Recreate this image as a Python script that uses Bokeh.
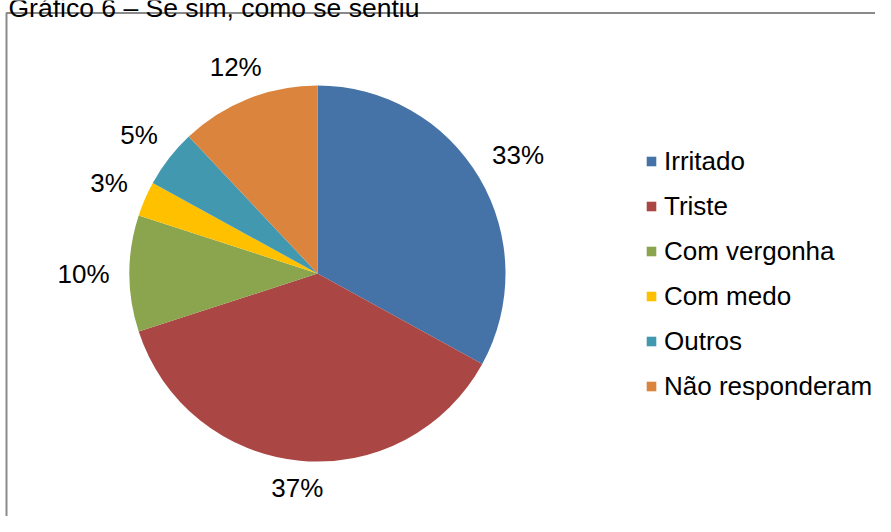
import math
from bokeh.plotting import figure
from bokeh.models import Range1d, ColumnDataSource, Legend, LegendItem
from bokeh.core.properties import value
from bokeh.embed import file_html
from bokeh.resources import INLINE

# ---- data ----
categories = ["Irritado", "Triste", "Com vergonha", "Com medo", "Outros", "Não responderam"]
percentages = [33, 37, 10, 3, 5, 12]
colors = ["#4673A7", "#AA4744", "#8AA54D", "#FFC000", "#4198AF", "#DB843D"]
title_text = "Gráfico 6 – Se sim, como se sentiu"

# ---- layout (pixels) ----
W, H = 875, 516
CX, CY, R = 317, 273, 188
FONT = "Liberation Sans"
FS = 26

def py(y):
    return H - y

p = figure(width=W, height=H, output_backend="svg", toolbar_location=None,
           x_range=Range1d(0, W), y_range=Range1d(0, H), min_border=0,
           outline_line_color=None, background_fill_color="white")
p.axis.visible = False
p.grid.visible = False

total = sum(percentages)
starts, ends, mids = [], [], []
cum = 0.0
for v in percentages:
    a0 = math.pi / 2 - 2 * math.pi * cum / total
    cum += v
    a1 = math.pi / 2 - 2 * math.pi * cum / total
    starts.append(a0)
    ends.append(a1)
    mids.append((a0 + a1) / 2)

src = ColumnDataSource(dict(cat=categories, pct=percentages, start=starts, end=ends, color=colors))
wr = p.wedge(x=CX, y=py(CY), radius=R, start_angle="start", end_angle="end",
             direction="clock", fill_color="color", line_color=None, source=src)

# ---- percentage labels placed just outside the pie ----
lx, ly, lt = [], [], []
gap = 20
for v, m in zip(percentages, mids):
    txt = f"{v}%"
    half_w = (0.556 * len(str(v)) + 0.889) * FS / 2
    half_h = 5
    c, s = math.cos(m), math.sin(m)
    d = R + gap + abs(c) * half_w + abs(s) * half_h
    lx.append(CX + d * c)
    ly.append(py(CY) + d * s)
    lt.append(txt)
p.text(x=lx, y=ly, text=lt, text_align="center", text_baseline="middle",
       text_font=value(FONT), text_font_size=f"{FS}px", text_color="black")

# ---- frame and (cropped) title ----
p.line(x=[6, 6, W + 20], y=[py(H + 20), py(12.5), py(12.5)], line_color="#8a8a8a", line_width=2)
p.text(x=[8], y=[py(7)], text=[title_text], text_align="left", text_baseline="alphabetic",
       text_font=value(FONT), text_font_size="26.5px", text_color="black")

# ---- legend ----
items = [LegendItem(label=c, renderers=[wr], index=i) for i, c in enumerate(categories)]
legend = Legend(items=items, location=(645, py(402)), orientation="vertical",
                glyph_width=12, glyph_height=12, label_height=32, spacing=13,
                label_standoff=7, padding=0, margin=0,
                label_text_font=FONT, label_text_font_size=f"{FS}px",
                label_text_color="black", border_line_color=None,
                background_fill_alpha=0)
p.add_layout(legend, "center")

open("out.html", "w").write(file_html(p, INLINE))
